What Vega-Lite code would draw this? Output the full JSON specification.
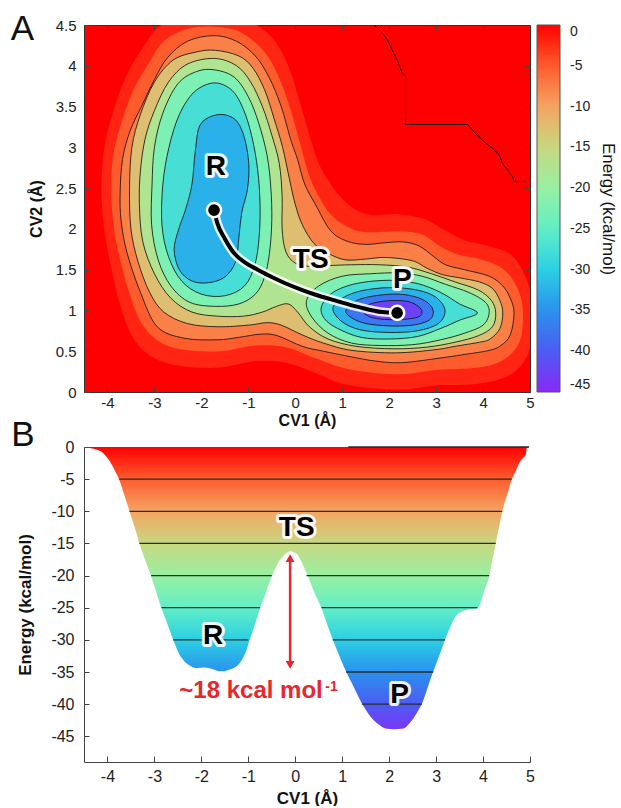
{
"$schema": "https://vega.github.io/schema/vega-lite/v6.json",
"padding": {"left": 10, "top": 11, "right": 0, "bottom": 0},
"bounds": "flush",
"spacing": 55,
"background": "white",
"config": {
  "font": "Liberation Sans",
  "locale": {"number": {"decimal": ".", "thousands": ",", "grouping": [3], "currency": ["$", ""], "minus": "-"}},
  "axis": {"grid": false, "labelColor": "#222", "titleColor": "#111", "domainColor": "#444", "tickColor": "#444", "labelFont": "Liberation Sans", "titleFont": "Liberation Sans", "titleFontWeight": "bold", "titleFontSize": 17, "labelFontSize": 15, "labelFlush": false, "labelOverlap": false, "tickCount": 20},
  "legend": {"labelFont": "Liberation Sans", "titleFont": "Liberation Sans"},
  "view": {"stroke": null}
},
"datasets": {
  "poly": [
    {"g":"ha","l":0.5,"i":0,"x":-1.73,"y":4.62},{"g":"ha","l":0.5,"i":1,"x":-1.1,"y":4.58},{"g":"ha","l":0.5,"i":2,"x":-0.5,"y":4.35},{"g":"ha","l":0.5,"i":3,"x":-0.15,"y":4.0},{"g":"ha","l":0.5,"i":4,"x":0.1,"y":3.55},{"g":"ha","l":0.5,"i":5,"x":0.3,"y":3.15},{"g":"ha","l":0.5,"i":6,"x":0.5,"y":2.8},{"g":"ha","l":0.5,"i":7,"x":0.72,"y":2.58},{"g":"ha","l":0.5,"i":8,"x":0.95,"y":2.4},{"g":"ha","l":0.5,"i":9,"x":1.25,"y":2.25},{"g":"ha","l":0.5,"i":10,"x":1.6,"y":2.17},{"g":"ha","l":0.5,"i":11,"x":2.2,"y":2.18},{"g":"ha","l":0.5,"i":12,"x":2.75,"y":2.12},{"g":"ha","l":0.5,"i":13,"x":3.2,"y":1.98},{"g":"ha","l":0.5,"i":14,"x":3.6,"y":1.86},{"g":"ha","l":0.5,"i":15,"x":4.05,"y":1.8},{"g":"ha","l":0.5,"i":16,"x":4.6,"y":1.68},{"g":"ha","l":0.5,"i":17,"x":4.95,"y":1.35},{"g":"ha","l":0.5,"i":18,"x":5.05,"y":0.97},{"g":"ha","l":0.5,"i":19,"x":4.98,"y":0.5},{"g":"ha","l":0.5,"i":20,"x":4.6,"y":0.22},{"g":"ha","l":0.5,"i":21,"x":3.9,"y":0.1},{"g":"ha","l":0.5,"i":22,"x":3.0,"y":0.08},{"g":"ha","l":0.5,"i":23,"x":2.3,"y":0.03},{"g":"ha","l":0.5,"i":24,"x":1.6,"y":0.05},{"g":"ha","l":0.5,"i":25,"x":1.0,"y":0.1},{"g":"ha","l":0.5,"i":26,"x":0.4,"y":0.24},{"g":"ha","l":0.5,"i":27,"x":-0.2,"y":0.36},{"g":"ha","l":0.5,"i":28,"x":-0.85,"y":0.38},{"g":"ha","l":0.5,"i":29,"x":-1.6,"y":0.3},{"g":"ha","l":0.5,"i":30,"x":-2.45,"y":0.32},{"g":"ha","l":0.5,"i":31,"x":-3.05,"y":0.43},{"g":"ha","l":0.5,"i":32,"x":-3.45,"y":0.66},{"g":"ha","l":0.5,"i":33,"x":-3.72,"y":1.05},{"g":"ha","l":0.5,"i":34,"x":-3.93,"y":1.55},{"g":"ha","l":0.5,"i":35,"x":-4.07,"y":2.0},{"g":"ha","l":0.5,"i":36,"x":-4.13,"y":2.45},{"g":"ha","l":0.5,"i":37,"x":-4.08,"y":2.95},{"g":"ha","l":0.5,"i":38,"x":-3.9,"y":3.4},{"g":"ha","l":0.5,"i":39,"x":-3.62,"y":3.85},{"g":"ha","l":0.5,"i":40,"x":-3.25,"y":4.22},{"g":"ha","l":0.5,"i":41,"x":-2.9,"y":4.48},{"g":"ha","l":0.5,"i":42,"x":-2.35,"y":4.62},

    {"g":"h","l":-2.5,"i":0,"x":-1.73,"y":4.48},{"g":"h","l":-2.5,"i":1,"x":-1.2,"y":4.42},{"g":"h","l":-2.5,"i":2,"x":-0.7,"y":4.2},{"g":"h","l":-2.5,"i":3,"x":-0.38,"y":3.9},{"g":"h","l":-2.5,"i":4,"x":-0.12,"y":3.5},{"g":"h","l":-2.5,"i":5,"x":0.1,"y":3.05},{"g":"h","l":-2.5,"i":6,"x":0.3,"y":2.65},{"g":"h","l":-2.5,"i":7,"x":0.5,"y":2.4},{"g":"h","l":-2.5,"i":8,"x":0.75,"y":2.18},{"g":"h","l":-2.5,"i":9,"x":1.1,"y":2.03},{"g":"h","l":-2.5,"i":10,"x":1.5,"y":1.96},{"g":"h","l":-2.5,"i":11,"x":2.2,"y":1.97},{"g":"h","l":-2.5,"i":12,"x":2.7,"y":1.93},{"g":"h","l":-2.5,"i":13,"x":3.1,"y":1.78},{"g":"h","l":-2.5,"i":14,"x":3.5,"y":1.68},{"g":"h","l":-2.5,"i":15,"x":4.0,"y":1.62},{"g":"h","l":-2.5,"i":16,"x":4.45,"y":1.5},{"g":"h","l":-2.5,"i":17,"x":4.75,"y":1.25},{"g":"h","l":-2.5,"i":18,"x":4.85,"y":0.97},{"g":"h","l":-2.5,"i":19,"x":4.78,"y":0.62},{"g":"h","l":-2.5,"i":20,"x":4.45,"y":0.4},{"g":"h","l":-2.5,"i":21,"x":3.9,"y":0.3},{"g":"h","l":-2.5,"i":22,"x":3.0,"y":0.27},{"g":"h","l":-2.5,"i":23,"x":2.3,"y":0.22},{"g":"h","l":-2.5,"i":24,"x":1.6,"y":0.24},{"g":"h","l":-2.5,"i":25,"x":1.0,"y":0.3},{"g":"h","l":-2.5,"i":26,"x":0.4,"y":0.42},{"g":"h","l":-2.5,"i":27,"x":-0.2,"y":0.55},{"g":"h","l":-2.5,"i":28,"x":-0.85,"y":0.57},{"g":"h","l":-2.5,"i":29,"x":-1.6,"y":0.5},{"g":"h","l":-2.5,"i":30,"x":-2.4,"y":0.52},{"g":"h","l":-2.5,"i":31,"x":-2.9,"y":0.62},{"g":"h","l":-2.5,"i":32,"x":-3.25,"y":0.82},{"g":"h","l":-2.5,"i":33,"x":-3.5,"y":1.15},{"g":"h","l":-2.5,"i":34,"x":-3.72,"y":1.6},{"g":"h","l":-2.5,"i":35,"x":-3.86,"y":2.0},{"g":"h","l":-2.5,"i":36,"x":-3.92,"y":2.45},{"g":"h","l":-2.5,"i":37,"x":-3.88,"y":2.9},{"g":"h","l":-2.5,"i":38,"x":-3.7,"y":3.3},{"g":"h","l":-2.5,"i":39,"x":-3.45,"y":3.7},{"g":"h","l":-2.5,"i":40,"x":-3.1,"y":4.05},{"g":"h","l":-2.5,"i":41,"x":-2.8,"y":4.3},{"g":"h","l":-2.5,"i":42,"x":-2.3,"y":4.45},

    {"g":"c5","l":-5,"i":0,"x":-1.73,"y":4.37},{"g":"c5","l":-5,"i":1,"x":-1.25,"y":4.3},{"g":"c5","l":-5,"i":2,"x":-0.85,"y":4.12},{"g":"c5","l":-5,"i":3,"x":-0.55,"y":3.85},{"g":"c5","l":-5,"i":4,"x":-0.3,"y":3.5},{"g":"c5","l":-5,"i":5,"x":-0.1,"y":3.1},{"g":"c5","l":-5,"i":6,"x":0.05,"y":2.85},{"g":"c5","l":-5,"i":7,"x":0.2,"y":2.55},{"g":"c5","l":-5,"i":8,"x":0.43,"y":2.3},{"g":"c5","l":-5,"i":9,"x":0.75,"y":1.98},{"g":"c5","l":-5,"i":10,"x":1.1,"y":1.85},{"g":"c5","l":-5,"i":11,"x":1.5,"y":1.81},{"g":"c5","l":-5,"i":12,"x":1.9,"y":1.83},{"g":"c5","l":-5,"i":13,"x":2.3,"y":1.84},{"g":"c5","l":-5,"i":14,"x":2.64,"y":1.79},{"g":"c5","l":-5,"i":15,"x":2.95,"y":1.66},{"g":"c5","l":-5,"i":16,"x":3.2,"y":1.56},{"g":"c5","l":-5,"i":17,"x":3.6,"y":1.5},{"g":"c5","l":-5,"i":18,"x":4.13,"y":1.42},{"g":"c5","l":-5,"i":19,"x":4.42,"y":1.3},{"g":"c5","l":-5,"i":20,"x":4.58,"y":1.15},{"g":"c5","l":-5,"i":21,"x":4.66,"y":0.97},{"g":"c5","l":-5,"i":22,"x":4.58,"y":0.7},{"g":"c5","l":-5,"i":23,"x":4.38,"y":0.57},{"g":"c5","l":-5,"i":24,"x":4.13,"y":0.51},{"g":"c5","l":-5,"i":25,"x":3.6,"y":0.46},{"g":"c5","l":-5,"i":26,"x":3.13,"y":0.42},{"g":"c5","l":-5,"i":27,"x":2.28,"y":0.36},{"g":"c5","l":-5,"i":28,"x":1.7,"y":0.38},{"g":"c5","l":-5,"i":29,"x":1.2,"y":0.43},{"g":"c5","l":-5,"i":30,"x":0.6,"y":0.5},{"g":"c5","l":-5,"i":31,"x":0.15,"y":0.56},{"g":"c5","l":-5,"i":32,"x":-0.38,"y":0.69},{"g":"c5","l":-5,"i":33,"x":-0.73,"y":0.71},{"g":"c5","l":-5,"i":34,"x":-1.2,"y":0.67},{"g":"c5","l":-5,"i":35,"x":-1.66,"y":0.64},{"g":"c5","l":-5,"i":36,"x":-2.37,"y":0.66},{"g":"c5","l":-5,"i":37,"x":-2.94,"y":0.8},{"g":"c5","l":-5,"i":38,"x":-3.29,"y":1.21},{"g":"c5","l":-5,"i":39,"x":-3.58,"y":1.7},{"g":"c5","l":-5,"i":40,"x":-3.71,"y":2.1},{"g":"c5","l":-5,"i":41,"x":-3.73,"y":2.45},{"g":"c5","l":-5,"i":42,"x":-3.68,"y":2.85},{"g":"c5","l":-5,"i":43,"x":-3.52,"y":3.2},{"g":"c5","l":-5,"i":44,"x":-3.26,"y":3.52},{"g":"c5","l":-5,"i":45,"x":-3.0,"y":3.83},{"g":"c5","l":-5,"i":46,"x":-2.72,"y":4.1},{"g":"c5","l":-5,"i":47,"x":-2.3,"y":4.3},

    {"g":"c10","l":-10,"i":0,"x":-1.7,"y":4.19},{"g":"c10","l":-10,"i":1,"x":-1.2,"y":4.12},{"g":"c10","l":-10,"i":2,"x":-0.9,"y":3.97},{"g":"c10","l":-10,"i":3,"x":-0.65,"y":3.7},{"g":"c10","l":-10,"i":4,"x":-0.45,"y":3.35},{"g":"c10","l":-10,"i":5,"x":-0.27,"y":3.0},{"g":"c10","l":-10,"i":6,"x":-0.12,"y":2.6},{"g":"c10","l":-10,"i":7,"x":0.0,"y":2.3},{"g":"c10","l":-10,"i":8,"x":0.15,"y":2.05},{"g":"c10","l":-10,"i":9,"x":0.4,"y":1.82},{"g":"c10","l":-10,"i":10,"x":0.7,"y":1.7},{"g":"c10","l":-10,"i":11,"x":1.07,"y":1.62},{"g":"c10","l":-10,"i":12,"x":1.5,"y":1.63},{"g":"c10","l":-10,"i":13,"x":1.92,"y":1.65},{"g":"c10","l":-10,"i":14,"x":2.49,"y":1.61},{"g":"c10","l":-10,"i":15,"x":2.8,"y":1.52},{"g":"c10","l":-10,"i":16,"x":3.13,"y":1.44},{"g":"c10","l":-10,"i":17,"x":3.5,"y":1.4},{"g":"c10","l":-10,"i":18,"x":3.92,"y":1.35},{"g":"c10","l":-10,"i":19,"x":4.2,"y":1.27},{"g":"c10","l":-10,"i":20,"x":4.36,"y":1.12},{"g":"c10","l":-10,"i":21,"x":4.42,"y":0.97},{"g":"c10","l":-10,"i":22,"x":4.36,"y":0.78},{"g":"c10","l":-10,"i":23,"x":4.15,"y":0.65},{"g":"c10","l":-10,"i":24,"x":3.92,"y":0.61},{"g":"c10","l":-10,"i":25,"x":3.4,"y":0.56},{"g":"c10","l":-10,"i":26,"x":3.0,"y":0.52},{"g":"c10","l":-10,"i":27,"x":2.14,"y":0.48},{"g":"c10","l":-10,"i":28,"x":1.21,"y":0.51},{"g":"c10","l":-10,"i":29,"x":0.6,"y":0.6},{"g":"c10","l":-10,"i":30,"x":0.15,"y":0.7},{"g":"c10","l":-10,"i":31,"x":-0.3,"y":0.82},{"g":"c10","l":-10,"i":32,"x":-0.6,"y":0.85},{"g":"c10","l":-10,"i":33,"x":-1.0,"y":0.82},{"g":"c10","l":-10,"i":34,"x":-1.66,"y":0.8},{"g":"c10","l":-10,"i":35,"x":-2.3,"y":0.84},{"g":"c10","l":-10,"i":36,"x":-2.8,"y":0.98},{"g":"c10","l":-10,"i":37,"x":-3.1,"y":1.22},{"g":"c10","l":-10,"i":38,"x":-3.35,"y":1.6},{"g":"c10","l":-10,"i":39,"x":-3.5,"y":2.0},{"g":"c10","l":-10,"i":40,"x":-3.53,"y":2.5},{"g":"c10","l":-10,"i":41,"x":-3.48,"y":3.0},{"g":"c10","l":-10,"i":42,"x":-3.3,"y":3.4},{"g":"c10","l":-10,"i":43,"x":-3.0,"y":3.8},{"g":"c10","l":-10,"i":44,"x":-2.6,"y":4.07},{"g":"c10","l":-10,"i":45,"x":-2.1,"y":4.17},

    {"g":"c15","l":-15,"i":0,"x":-1.72,"y":4.09},{"g":"c15","l":-15,"i":1,"x":-1.25,"y":4.0},{"g":"c15","l":-15,"i":2,"x":-0.95,"y":3.8},{"g":"c15","l":-15,"i":3,"x":-0.7,"y":3.5},{"g":"c15","l":-15,"i":4,"x":-0.5,"y":3.15},{"g":"c15","l":-15,"i":5,"x":-0.34,"y":2.8},{"g":"c15","l":-15,"i":6,"x":-0.28,"y":2.4},{"g":"c15","l":-15,"i":7,"x":-0.28,"y":2.0},{"g":"c15","l":-15,"i":8,"x":-0.2,"y":1.72},{"g":"c15","l":-15,"i":9,"x":0.0,"y":1.58},{"g":"c15","l":-15,"i":10,"x":0.3,"y":1.54},{"g":"c15","l":-15,"i":11,"x":0.7,"y":1.55},{"g":"c15","l":-15,"i":12,"x":1.2,"y":1.56},{"g":"c15","l":-15,"i":13,"x":1.8,"y":1.56},{"g":"c15","l":-15,"i":14,"x":2.4,"y":1.53},{"g":"c15","l":-15,"i":15,"x":2.9,"y":1.45},{"g":"c15","l":-15,"i":16,"x":3.4,"y":1.35},{"g":"c15","l":-15,"i":17,"x":3.9,"y":1.25},{"g":"c15","l":-15,"i":18,"x":4.18,"y":1.12},{"g":"c15","l":-15,"i":19,"x":4.27,"y":0.97},{"g":"c15","l":-15,"i":20,"x":4.2,"y":0.8},{"g":"c15","l":-15,"i":21,"x":3.9,"y":0.69},{"g":"c15","l":-15,"i":22,"x":3.4,"y":0.61},{"g":"c15","l":-15,"i":23,"x":2.8,"y":0.55},{"g":"c15","l":-15,"i":24,"x":2.1,"y":0.53},{"g":"c15","l":-15,"i":25,"x":1.3,"y":0.56},{"g":"c15","l":-15,"i":26,"x":0.7,"y":0.65},{"g":"c15","l":-15,"i":27,"x":0.3,"y":0.8},{"g":"c15","l":-15,"i":28,"x":0.05,"y":0.98},{"g":"c15","l":-15,"i":29,"x":-0.15,"y":1.08},{"g":"c15","l":-15,"i":30,"x":-0.4,"y":1.05},{"g":"c15","l":-15,"i":31,"x":-0.7,"y":0.98},{"g":"c15","l":-15,"i":32,"x":-1.1,"y":0.93},{"g":"c15","l":-15,"i":33,"x":-1.66,"y":0.93},{"g":"c15","l":-15,"i":34,"x":-2.2,"y":0.98},{"g":"c15","l":-15,"i":35,"x":-2.65,"y":1.15},{"g":"c15","l":-15,"i":36,"x":-3.0,"y":1.45},{"g":"c15","l":-15,"i":37,"x":-3.25,"y":1.85},{"g":"c15","l":-15,"i":38,"x":-3.32,"y":2.3},{"g":"c15","l":-15,"i":39,"x":-3.3,"y":2.7},{"g":"c15","l":-15,"i":40,"x":-3.2,"y":3.1},{"g":"c15","l":-15,"i":41,"x":-3.0,"y":3.45},{"g":"c15","l":-15,"i":42,"x":-2.7,"y":3.8},{"g":"c15","l":-15,"i":43,"x":-2.3,"y":4.02},

    {"g":"r20","l":-20,"i":0,"x":-1.72,"y":3.95},{"g":"r20","l":-20,"i":1,"x":-1.3,"y":3.86},{"g":"r20","l":-20,"i":2,"x":-1.0,"y":3.62},{"g":"r20","l":-20,"i":3,"x":-0.78,"y":3.3},{"g":"r20","l":-20,"i":4,"x":-0.6,"y":2.9},{"g":"r20","l":-20,"i":5,"x":-0.52,"y":2.5},{"g":"r20","l":-20,"i":6,"x":-0.5,"y":2.1},{"g":"r20","l":-20,"i":7,"x":-0.55,"y":1.7},{"g":"r20","l":-20,"i":8,"x":-0.66,"y":1.4},{"g":"r20","l":-20,"i":9,"x":-0.85,"y":1.2},{"g":"r20","l":-20,"i":10,"x":-1.2,"y":1.08},{"g":"r20","l":-20,"i":11,"x":-1.7,"y":1.05},{"g":"r20","l":-20,"i":12,"x":-2.25,"y":1.1},{"g":"r20","l":-20,"i":13,"x":-2.65,"y":1.3},{"g":"r20","l":-20,"i":14,"x":-2.92,"y":1.62},{"g":"r20","l":-20,"i":15,"x":-3.06,"y":2.05},{"g":"r20","l":-20,"i":16,"x":-3.05,"y":2.55},{"g":"r20","l":-20,"i":17,"x":-3.0,"y":3.0},{"g":"r20","l":-20,"i":18,"x":-2.82,"y":3.42},{"g":"r20","l":-20,"i":19,"x":-2.5,"y":3.78},{"g":"r20","l":-20,"i":20,"x":-2.1,"y":3.93},

    {"g":"r25","l":-25,"i":0,"x":-1.73,"y":3.79},{"g":"r25","l":-25,"i":1,"x":-1.35,"y":3.7},{"g":"r25","l":-25,"i":2,"x":-1.1,"y":3.46},{"g":"r25","l":-25,"i":3,"x":-0.92,"y":3.12},{"g":"r25","l":-25,"i":4,"x":-0.8,"y":2.72},{"g":"r25","l":-25,"i":5,"x":-0.75,"y":2.3},{"g":"r25","l":-25,"i":6,"x":-0.77,"y":1.9},{"g":"r25","l":-25,"i":7,"x":-0.86,"y":1.56},{"g":"r25","l":-25,"i":8,"x":-1.08,"y":1.3},{"g":"r25","l":-25,"i":9,"x":-1.5,"y":1.18},{"g":"r25","l":-25,"i":10,"x":-2.0,"y":1.2},{"g":"r25","l":-25,"i":11,"x":-2.42,"y":1.36},{"g":"r25","l":-25,"i":12,"x":-2.7,"y":1.66},{"g":"r25","l":-25,"i":13,"x":-2.84,"y":2.05},{"g":"r25","l":-25,"i":14,"x":-2.82,"y":2.55},{"g":"r25","l":-25,"i":15,"x":-2.69,"y":3.0},{"g":"r25","l":-25,"i":16,"x":-2.47,"y":3.4},{"g":"r25","l":-25,"i":17,"x":-2.15,"y":3.68},

    {"g":"r30","l":-30,"i":0,"x":-1.66,"y":3.4},{"g":"r30","l":-30,"i":1,"x":-1.3,"y":3.35},{"g":"r30","l":-30,"i":2,"x":-1.1,"y":3.15},{"g":"r30","l":-30,"i":3,"x":-0.99,"y":2.8},{"g":"r30","l":-30,"i":4,"x":-1.02,"y":2.48},{"g":"r30","l":-30,"i":5,"x":-1.14,"y":2.2},{"g":"r30","l":-30,"i":6,"x":-1.2,"y":1.9},{"g":"r30","l":-30,"i":7,"x":-1.27,"y":1.6},{"g":"r30","l":-30,"i":8,"x":-1.5,"y":1.41},{"g":"r30","l":-30,"i":9,"x":-1.85,"y":1.34},{"g":"r30","l":-30,"i":10,"x":-2.2,"y":1.36},{"g":"r30","l":-30,"i":11,"x":-2.47,"y":1.5},{"g":"r30","l":-30,"i":12,"x":-2.58,"y":1.75},{"g":"r30","l":-30,"i":13,"x":-2.48,"y":2.0},{"g":"r30","l":-30,"i":14,"x":-2.33,"y":2.25},{"g":"r30","l":-30,"i":15,"x":-2.2,"y":2.55},{"g":"r30","l":-30,"i":16,"x":-2.13,"y":2.95},{"g":"r30","l":-30,"i":17,"x":-2.02,"y":3.28},

    {"g":"p20","l":-20,"i":0,"x":0.24,"y":1.12},{"g":"p20","l":-20,"i":1,"x":0.5,"y":1.3},{"g":"p20","l":-20,"i":2,"x":1.0,"y":1.42},{"g":"p20","l":-20,"i":3,"x":1.6,"y":1.45},{"g":"p20","l":-20,"i":4,"x":2.2,"y":1.46},{"g":"p20","l":-20,"i":5,"x":2.7,"y":1.42},{"g":"p20","l":-20,"i":6,"x":3.2,"y":1.32},{"g":"p20","l":-20,"i":7,"x":3.7,"y":1.22},{"g":"p20","l":-20,"i":8,"x":4.05,"y":1.1},{"g":"p20","l":-20,"i":9,"x":4.13,"y":0.97},{"g":"p20","l":-20,"i":10,"x":4.0,"y":0.82},{"g":"p20","l":-20,"i":11,"x":3.6,"y":0.72},{"g":"p20","l":-20,"i":12,"x":3.1,"y":0.64},{"g":"p20","l":-20,"i":13,"x":2.5,"y":0.58},{"g":"p20","l":-20,"i":14,"x":1.8,"y":0.57},{"g":"p20","l":-20,"i":15,"x":1.2,"y":0.6},{"g":"p20","l":-20,"i":16,"x":0.7,"y":0.72},{"g":"p20","l":-20,"i":17,"x":0.35,"y":0.92},

    {"g":"p25","l":-25,"i":0,"x":0.56,"y":1.05},{"g":"p25","l":-25,"i":1,"x":0.8,"y":1.22},{"g":"p25","l":-25,"i":2,"x":1.3,"y":1.33},{"g":"p25","l":-25,"i":3,"x":2.0,"y":1.37},{"g":"p25","l":-25,"i":4,"x":2.6,"y":1.33},{"g":"p25","l":-25,"i":5,"x":3.1,"y":1.22},{"g":"p25","l":-25,"i":6,"x":3.5,"y":1.08},{"g":"p25","l":-25,"i":7,"x":3.88,"y":0.97},{"g":"p25","l":-25,"i":8,"x":3.5,"y":0.88},{"g":"p25","l":-25,"i":9,"x":3.1,"y":0.78},{"g":"p25","l":-25,"i":10,"x":2.6,"y":0.68},{"g":"p25","l":-25,"i":11,"x":2.0,"y":0.65},{"g":"p25","l":-25,"i":12,"x":1.4,"y":0.67},{"g":"p25","l":-25,"i":13,"x":0.9,"y":0.78},{"g":"p25","l":-25,"i":14,"x":0.62,"y":0.9},

    {"g":"p30","l":-30,"i":0,"x":0.8,"y":1.02},{"g":"p30","l":-30,"i":1,"x":1.0,"y":1.15},{"g":"p30","l":-30,"i":2,"x":1.4,"y":1.24},{"g":"p30","l":-30,"i":3,"x":2.0,"y":1.28},{"g":"p30","l":-30,"i":4,"x":2.6,"y":1.25},{"g":"p30","l":-30,"i":5,"x":3.0,"y":1.16},{"g":"p30","l":-30,"i":6,"x":3.19,"y":1.0},{"g":"p30","l":-30,"i":7,"x":3.05,"y":0.84},{"g":"p30","l":-30,"i":8,"x":2.6,"y":0.75},{"g":"p30","l":-30,"i":9,"x":2.0,"y":0.73},{"g":"p30","l":-30,"i":10,"x":1.4,"y":0.76},{"g":"p30","l":-30,"i":11,"x":1.0,"y":0.86},

    {"g":"p35","l":-35,"i":0,"x":1.08,"y":1.0},{"g":"p35","l":-35,"i":1,"x":1.3,"y":1.12},{"g":"p35","l":-35,"i":2,"x":1.7,"y":1.18},{"g":"p35","l":-35,"i":3,"x":2.2,"y":1.2},{"g":"p35","l":-35,"i":4,"x":2.6,"y":1.16},{"g":"p35","l":-35,"i":5,"x":2.85,"y":1.08},{"g":"p35","l":-35,"i":6,"x":2.94,"y":0.98},{"g":"p35","l":-35,"i":7,"x":2.85,"y":0.88},{"g":"p35","l":-35,"i":8,"x":2.5,"y":0.82},{"g":"p35","l":-35,"i":9,"x":2.0,"y":0.81},{"g":"p35","l":-35,"i":10,"x":1.5,"y":0.84},{"g":"p35","l":-35,"i":11,"x":1.2,"y":0.91},

    {"g":"p40","l":-40,"i":0,"x":1.42,"y":1.0},{"g":"p40","l":-40,"i":1,"x":1.6,"y":1.08},{"g":"p40","l":-40,"i":2,"x":2.0,"y":1.12},{"g":"p40","l":-40,"i":3,"x":2.4,"y":1.11},{"g":"p40","l":-40,"i":4,"x":2.62,"y":1.05},{"g":"p40","l":-40,"i":5,"x":2.7,"y":0.98},{"g":"p40","l":-40,"i":6,"x":2.62,"y":0.92},{"g":"p40","l":-40,"i":7,"x":2.3,"y":0.89},{"g":"p40","l":-40,"i":8,"x":1.9,"y":0.89},{"g":"p40","l":-40,"i":9,"x":1.6,"y":0.92}
  ],
  "stair": [
    {"i":0,"x":1.68,"y":4.5},{"i":1,"x":1.85,"y":4.4},{"i":2,"x":1.96,"y":4.32},{"i":3,"x":2.03,"y":4.24},{"i":4,"x":2.1,"y":4.15},{"i":5,"x":2.17,"y":4.07},{"i":6,"x":2.24,"y":3.97},{"i":7,"x":2.28,"y":3.91},{"i":8,"x":2.35,"y":3.87},{"i":9,"x":2.35,"y":3.28},{"i":10,"x":3.67,"y":3.28},{"i":11,"x":3.84,"y":3.17},{"i":12,"x":4.02,"y":3.07},{"i":13,"x":4.2,"y":2.99},{"i":14,"x":4.34,"y":2.91},{"i":15,"x":4.41,"y":2.81},{"i":16,"x":4.52,"y":2.72},{"i":17,"x":4.63,"y":2.64},{"i":18,"x":4.66,"y":2.58},{"i":19,"x":4.91,"y":2.58}
  ],
  "path": [
    {"x":-1.73,"y":2.23},{"x":-1.66,"y":2.07},{"x":-1.5,"y":1.88},{"x":-1.3,"y":1.7},{"x":-1.05,"y":1.58},{"x":-0.8,"y":1.5},{"x":-0.5,"y":1.41},{"x":-0.24,"y":1.34},{"x":0.15,"y":1.25},{"x":0.5,"y":1.18},{"x":0.86,"y":1.12},{"x":1.36,"y":1.04},{"x":1.85,"y":0.98},{"x":2.17,"y":0.97}
  ],
  "dots": [{"x":-1.73,"y":2.23},{"x":2.17,"y":0.97}],
  "labA": [{"t":"R","x":-1.69,"y":2.76},{"t":"TS","x":0.33,"y":1.62},{"t":"P","x":2.28,"y":1.37}],
  "cb": [{"e":-45},{"e":0}],
  "prof": [
    {"x":-4.5,"e":0},{"x":-4.35,"e":-0.2},{"x":-4.24,"e":-0.4},{"x":-4.1,"e":-0.9},{"x":-4.03,"e":-1.45},{"x":-3.95,"e":-2.2},{"x":-3.89,"e":-3.0},{"x":-3.82,"e":-4.0},{"x":-3.75,"e":-5.1},{"x":-3.64,"e":-7.5},{"x":-3.53,"e":-10},{"x":-3.42,"e":-12.5},{"x":-3.32,"e":-15},{"x":-3.2,"e":-17.5},{"x":-3.07,"e":-20.1},{"x":-2.96,"e":-22.6},{"x":-2.85,"e":-25.1},{"x":-2.72,"e":-27.6},{"x":-2.6,"e":-30},{"x":-2.5,"e":-31.8},{"x":-2.39,"e":-33.1},{"x":-2.25,"e":-34.0},{"x":-2.11,"e":-34.4},{"x":-1.95,"e":-34.3},{"x":-1.82,"e":-34.4},{"x":-1.7,"e":-34.7},{"x":-1.61,"e":-34.9},{"x":-1.52,"e":-34.9},{"x":-1.43,"e":-34.7},{"x":-1.32,"e":-34.4},{"x":-1.22,"e":-33.9},{"x":-1.12,"e":-32.9},{"x":-1.04,"e":-31.6},{"x":-0.97,"e":-30},{"x":-0.86,"e":-27.6},{"x":-0.75,"e":-25.1},{"x":-0.62,"e":-22.5},{"x":-0.5,"e":-20.1},{"x":-0.38,"e":-18.2},{"x":-0.25,"e":-16.9},{"x":-0.11,"e":-16.2},{"x":0.03,"e":-16.6},{"x":0.13,"e":-17.8},{"x":0.24,"e":-19.6},{"x":0.4,"e":-22.5},{"x":0.56,"e":-25.1},{"x":0.68,"e":-27.6},{"x":0.8,"e":-30},{"x":0.94,"e":-32.5},{"x":1.08,"e":-34.9},{"x":1.25,"e":-37.4},{"x":1.42,"e":-39.9},{"x":1.55,"e":-41.4},{"x":1.67,"e":-42.5},{"x":1.8,"e":-43.3},{"x":1.92,"e":-43.8},{"x":2.1,"e":-43.9},{"x":2.31,"e":-43.8},{"x":2.42,"e":-43.1},{"x":2.52,"e":-42.2},{"x":2.62,"e":-41.0},{"x":2.7,"e":-39.9},{"x":2.82,"e":-37.4},{"x":2.94,"e":-34.9},{"x":3.07,"e":-32.4},{"x":3.19,"e":-30},{"x":3.3,"e":-28.0},{"x":3.41,"e":-26.4},{"x":3.52,"e":-25.7},{"x":3.66,"e":-25.3},{"x":3.8,"e":-25.2},{"x":3.88,"e":-25.1},{"x":3.91,"e":-24.8},{"x":4.02,"e":-22.5},{"x":4.13,"e":-20.1},{"x":4.2,"e":-17.5},{"x":4.27,"e":-15},{"x":4.34,"e":-12.5},{"x":4.41,"e":-10},{"x":4.51,"e":-7.5},{"x":4.61,"e":-5.1},{"x":4.7,"e":-3.7},{"x":4.77,"e":-2.5},{"x":4.85,"e":-1.7},{"x":4.91,"e":-1.2},{"x":4.93,"e":-0.2},{"x":4.98,"e":0}
  ],
  "lvl": [
    {"e":0,"x1":1.13,"x2":4.98},{"e":-5,"x1":-3.75,"x2":4.61},{"e":-10,"x1":-3.53,"x2":4.41},{"e":-15,"x1":-3.32,"x2":4.27},{"e":-20,"x1":-3.07,"x2":-0.5},{"e":-20,"x1":0.24,"x2":4.13},{"e":-25,"x1":-2.85,"x2":-0.75},{"e":-25,"x1":0.56,"x2":3.88},{"e":-30,"x1":-2.6,"x2":-1.0},{"e":-30,"x1":0.8,"x2":3.19},{"e":-35,"x1":1.08,"x2":2.94},{"e":-40,"x1":1.42,"x2":2.7}
  ],
  "labB": [{"t":"TS","x":0.03,"e":-12.6},{"t":"R","x":-1.75,"e":-29.4},{"t":"P","x":2.22,"e":-38.6}]
},
"vconcat": [
  {
    "width": 446, "height": 367,
    "view": {"fill": "#ff0000", "stroke": "#333", "strokeWidth": 1},
    "resolve": {"axis": {"x": "independent", "y": "independent"}},
    "layer": [
      {
        "data": {"name": "poly"},
        "mark": {"type": "line", "filled": true, "interpolate": "cardinal-closed", "clip": true},
        "encoding": {
          "x": {"field": "x", "type": "quantitative", "scale": {"domain": [-4.5, 5], "nice": false, "zero": false},
                "axis": {"values": [-4,-3,-2,-1,0,1,2,3,4,5], "title": "CV1 (Å)", "tickSize": -5, "labelPadding": 8, "titlePadding": 2, "titleFontSize": 16, "domain": false, "labelOverlap": false, "format": "d", "tickCount": 20}},
          "y": {"field": "y", "type": "quantitative", "scale": {"domain": [0, 4.5], "nice": false, "zero": false},
                "axis": {"values": [0,0.5,1,1.5,2,2.5,3,3.5,4,4.5], "title": "CV2 (Å)", "tickSize": -5, "labelPadding": 13, "titlePadding": 11, "titleFontSize": 16, "domain": false, "labelOverlap": false, "format": "~g", "tickCount": 20}},
          "detail": {"field": "g"},
          "order": {"field": "i", "type": "quantitative"},
          "fill": {"field": "l", "type": "quantitative", "legend": null,
                   "scale": {"type": "linear", "domain": [-42.5,-37.5,-32.5,-27.5,-22.5,-17.5,-12.5,-7.5,-2.5,2.5],
                             "range": ["#8a28f8","#4c5cf2","#2a92ee","#2ccfe4","#62efc6","#98f0a2","#c8d880","#f4a462","#ff5c2e","#ff0000"], "interpolate": "rgb"}}
        }
      },
      {
        "data": {"name": "poly"},
        "transform": [{"filter": "datum.l % 5 == 0"}],
        "mark": {"type": "line", "interpolate": "cardinal-closed", "color": "#141414", "strokeWidth": 0.85},
        "encoding": {
          "x": {"field": "x", "type": "quantitative", "axis": null},
          "y": {"field": "y", "type": "quantitative", "axis": null},
          "detail": {"field": "g"},
          "order": {"field": "i", "type": "quantitative"}
        }
      },
      {
        "data": {"name": "stair"},
        "mark": {"type": "line", "color": "#2a0000", "strokeWidth": 1},
        "encoding": {
          "x": {"field": "x", "type": "quantitative", "axis": null},
          "y": {"field": "y", "type": "quantitative", "axis": null},
          "order": {"field": "i", "type": "quantitative"}
        }
      },
      {
        "data": {"name": "path"},
        "mark": {"type": "line", "interpolate": "monotone", "color": "white", "strokeWidth": 9, "opacity": 0.85, "strokeCap": "round"},
        "encoding": {
          "x": {"field": "x", "type": "quantitative", "axis": null},
          "y": {"field": "y", "type": "quantitative", "axis": null}
        }
      },
      {
        "data": {"name": "path"},
        "mark": {"type": "line", "interpolate": "monotone", "color": "black", "strokeWidth": 4, "strokeCap": "round"},
        "encoding": {
          "x": {"field": "x", "type": "quantitative", "axis": {"orient": "top", "labels": false, "title": null, "domain": false, "tickSize": -5, "values": [-4,-3,-2,-1,0,1,2,3,4]}},
          "y": {"field": "y", "type": "quantitative", "axis": {"orient": "right", "labels": false, "title": null, "domain": false, "tickSize": -5, "values": [0.5,1,1.5,2,2.5,3,3.5,4]}}
        }
      },
      {
        "data": {"name": "dots"},
        "mark": {"type": "point", "filled": true, "color": "black", "size": 200, "stroke": "white", "strokeWidth": 2.5, "opacity": 1},
        "encoding": {
          "x": {"field": "x", "type": "quantitative", "axis": null},
          "y": {"field": "y", "type": "quantitative", "axis": null}
        }
      },
      {
        "data": {"name": "labA"},
        "mark": {"type": "text", "fontSize": 28, "fontWeight": "bold", "color": "white", "stroke": "white", "strokeWidth": 6, "strokeJoin": "round", "align": "center", "baseline": "middle", "opacity": 0.9},
        "encoding": {
          "x": {"field": "x", "type": "quantitative", "axis": null},
          "y": {"field": "y", "type": "quantitative", "axis": null},
          "text": {"field": "t"}
        }
      },
      {
        "data": {"name": "labA"},
        "mark": {"type": "text", "fontSize": 28, "fontWeight": "bold", "color": "black", "align": "center", "baseline": "middle"},
        "encoding": {
          "x": {"field": "x", "type": "quantitative", "axis": null},
          "y": {"field": "y", "type": "quantitative", "axis": null},
          "text": {"field": "t"}
        }
      },
      {
        "data": {"values": [{}]},
        "mark": {"type": "text", "fontSize": 35, "color": "#111", "align": "center", "baseline": "middle"},
        "encoding": {
          "x": {"datum": -5.81, "type": "quantitative", "axis": null},
          "y": {"datum": 4.45, "type": "quantitative", "axis": null},
          "text": {"value": "A"}
        }
      },
      {
        "data": {"name": "cb"},
        "mark": {"type": "point", "opacity": 0},
        "encoding": {
          "color": {"field": "e", "type": "quantitative",
                    "scale": {"type": "linear", "domain": [-45,-40,-35,-30,-25,-20,-15,-10,-5,0],
                              "range": ["#8a28f8","#4c5cf2","#2a92ee","#2ccfe4","#62efc6","#98f0a2","#c8d880","#f4a462","#ff5c2e","#ff0000"], "interpolate": "rgb"},
                    "legend": {"type": "gradient", "direction": "vertical", "orient": "right", "title": "Energy (kcal/mol)",
                               "values": [0,-5,-10,-15,-20,-25,-30,-35,-40,-45], "format": "d",
                               "gradientLength": 367, "gradientThickness": 23, "gradientStrokeColor": "#555", "gradientStrokeWidth": 1,
                               "offset": 2, "padding": 0, "labelFontSize": 14, "labelOffset": 10, "labelColor": "#222", "labelOverlap": false,
                               "titleOrient": "right", "titleAngle": 90, "titleAnchor": "middle", "titleFontSize": 17, "titleFontWeight": "normal", "titleColor": "#111", "titlePadding": 9}}
        }
      }
    ]
  },
  {
    "width": 446, "height": 315,
    "view": {"stroke": null},
    "layer": [
      {
        "data": {"name": "prof"},
        "mark": {"type": "area", "interpolate": "monotone",
                 "color": {"gradient": "linear", "x1": 0, "y1": 0, "x2": 0, "y2": 1,
                           "stops": [{"offset": 0, "color": "#ff0000"}, {"offset": 0.1139, "color": "#ff5c2e"}, {"offset": 0.2278, "color": "#f4a462"}, {"offset": 0.3417, "color": "#c8d880"}, {"offset": 0.4556, "color": "#98f0a2"}, {"offset": 0.5695, "color": "#62efc6"}, {"offset": 0.6834, "color": "#2ccfe4"}, {"offset": 0.7973, "color": "#2a92ee"}, {"offset": 0.9112, "color": "#4c5cf2"}, {"offset": 1, "color": "#7a36f6"}]}},
        "encoding": {
          "x": {"field": "x", "type": "quantitative", "scale": {"domain": [-4.5, 5], "nice": false, "zero": false},
                "axis": {"values": [-4,-3,-2,-1,0,1,2,3,4,5], "title": "CV1 (Å)", "tickSize": -6, "labelPadding": 12, "titlePadding": 6, "labelFontSize": 16, "labelOverlap": false, "format": "d", "tickCount": 20}},
          "y": {"field": "e", "type": "quantitative", "scale": {"domain": [-49, 0], "nice": false, "zero": false},
                "axis": {"values": [0,-5,-10,-15,-20,-25,-30,-35,-40,-45], "title": "Energy (kcal/mol)", "tickSize": -5, "labelPadding": 15, "titlePadding": 16, "labelFontSize": 16, "labelOverlap": false, "format": "d", "tickCount": 20}},
          "y2": {"datum": 0}
        }
      },
      {
        "data": {"name": "lvl"},
        "mark": {"type": "rule", "color": "#2a2a2a", "strokeWidth": 1.3},
        "encoding": {
          "x": {"field": "x1", "type": "quantitative"},
          "x2": {"field": "x2"},
          "y": {"field": "e", "type": "quantitative"}
        }
      },
      {
        "data": {"name": "labB"},
        "mark": {"type": "text", "fontSize": 28, "fontWeight": "bold", "color": "white", "stroke": "white", "strokeWidth": 6, "strokeJoin": "round", "align": "center", "baseline": "middle", "opacity": 0.9},
        "encoding": {
          "x": {"field": "x", "type": "quantitative"},
          "y": {"field": "e", "type": "quantitative"},
          "text": {"field": "t"}
        }
      },
      {
        "data": {"name": "labB"},
        "mark": {"type": "text", "fontSize": 28, "fontWeight": "bold", "color": "black", "align": "center", "baseline": "middle"},
        "encoding": {
          "x": {"field": "x", "type": "quantitative"},
          "y": {"field": "e", "type": "quantitative"},
          "text": {"field": "t"}
        }
      },
      {
        "data": {"values": [{}]},
        "mark": {"type": "rule", "color": "#e8262c", "strokeWidth": 2.5},
        "encoding": {
          "x": {"datum": -0.11, "type": "quantitative"},
          "y": {"datum": -17.5, "type": "quantitative"},
          "y2": {"datum": -33.8}
        }
      },
      {
        "data": {"values": [{}]},
        "mark": {"type": "point", "shape": "triangle-up", "filled": true, "color": "#e8262c", "size": 80, "opacity": 1},
        "encoding": {
          "x": {"datum": -0.11, "type": "quantitative"},
          "y": {"datum": -17.3, "type": "quantitative"}
        }
      },
      {
        "data": {"values": [{}]},
        "mark": {"type": "point", "shape": "triangle-down", "filled": true, "color": "#e8262c", "size": 80, "opacity": 1},
        "encoding": {
          "x": {"datum": -0.11, "type": "quantitative"},
          "y": {"datum": -33.9, "type": "quantitative"}
        }
      },
      {
        "data": {"values": [{}]},
        "mark": {"type": "text", "fontSize": 24, "fontWeight": "bold", "color": "#e8262c", "align": "left", "baseline": "alphabetic"},
        "encoding": {
          "x": {"datum": -2.47, "type": "quantitative"},
          "y": {"datum": -39.0, "type": "quantitative"},
          "text": {"value": "~18 kcal mol"}
        }
      },
      {
        "data": {"values": [{}]},
        "mark": {"type": "text", "fontSize": 14, "fontWeight": "bold", "color": "#e8262c", "align": "left", "baseline": "alphabetic"},
        "encoding": {
          "x": {"datum": 0.64, "type": "quantitative"},
          "y": {"datum": -37.9, "type": "quantitative"},
          "text": {"value": "-1"}
        }
      },
      {
        "data": {"values": [{}]},
        "mark": {"type": "text", "fontSize": 35, "color": "#111", "align": "center", "baseline": "middle"},
        "encoding": {
          "x": {"datum": -5.8, "type": "quantitative"},
          "y": {"datum": 1.87, "type": "quantitative"},
          "text": {"value": "B"}
        }
      }
    ]
  }
]
}
